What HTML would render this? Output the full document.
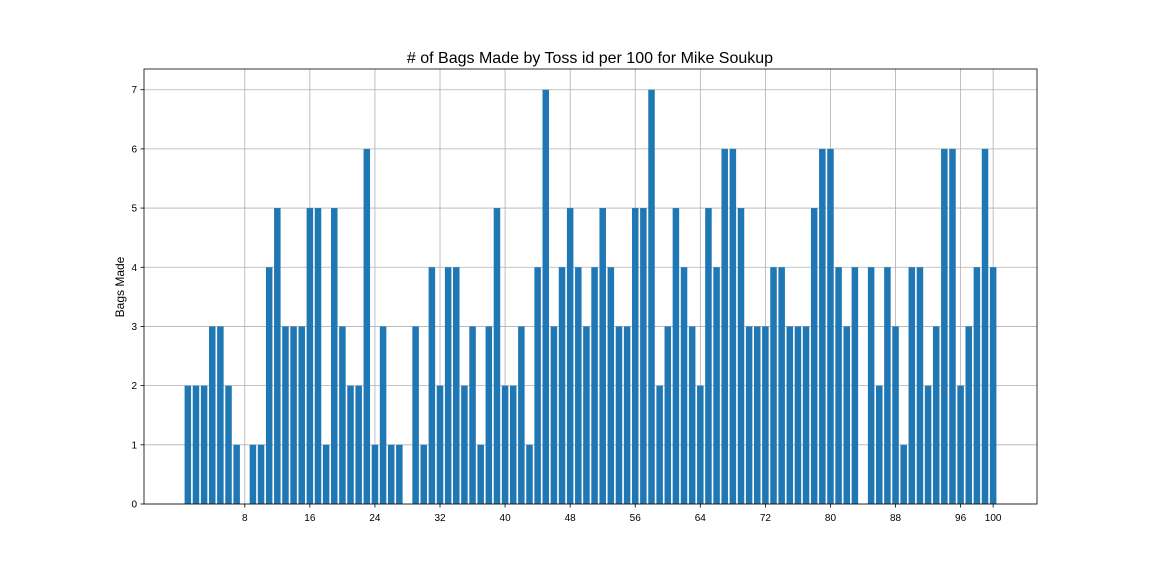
<!DOCTYPE html>
<html><head><meta charset="utf-8"><style>
body{margin:0;background:#fff;font-family:"Liberation Sans","DejaVu Sans",sans-serif}
</style></head><body>
<svg id="chart" width="1152" height="576" xmlns="http://www.w3.org/2000/svg">
<rect width="1152" height="576" fill="#fff"/>
<text x="590" y="63" text-anchor="middle" font-size="16" fill="#000">
# of Bags Made by Toss id per 100 for Mike Soukup</text>
<text transform="translate(124,287) rotate(-90)" text-anchor="middle" font-size="12" fill="#000">Bags Made</text>
<g id="grid"></g><g id="bars"></g><g id="axes"></g>
</svg>
<script>
const tossIds = Array.from({length:100},(_,i)=>i+1);
const bagsMade = [2,2,2,3,3,2,1,0,1,1,4,5,3,3,3,5,5,1,5,3,2,2,6,1,3,1,1,0,3,1,4,2,4,4,2,3,1,3,5,2,2,3,1,4,7,3,4,5,4,3,4,5,4,3,3,5,5,7,2,3,5,4,3,2,5,4,6,6,5,3,3,3,4,4,3,3,3,5,6,6,4,3,4,0,4,2,4,3,1,4,4,2,3,6,6,2,3,4,6,4];
const xTicks = [8,16,24,32,40,48,56,64,72,80,88,96,100];
const yTicks = [0,1,2,3,4,5,6,7];
const L=144,R=1037,T=69,B=504;
const xMin=-4.39,xMax=105.39,yMin=0,yMax=7.35;
const sx=v=>L+(v-xMin)/(xMax-xMin)*(R-L);
const sy=v=>B-(v-yMin)/(yMax-yMin)*(B-T);
const NS="http://www.w3.org/2000/svg";
function mk(tag,attrs,parent){const e=document.createElementNS(NS,tag);for(const k in attrs)e.setAttribute(k,attrs[k]);parent.appendChild(e);return e;}
const grid=document.getElementById('grid'),bars=document.getElementById('bars'),axes=document.getElementById('axes');
xTicks.forEach(t=>{
  const g=mk('line',{x1:sx(t),x2:sx(t),y1:T,y2:B,stroke:'#b0b0b0','stroke-width':0.8},grid);
  
  
  mk('line',{x1:sx(t),x2:sx(t),y1:B,y2:B+3.5,stroke:'#000','stroke-width':0.8},axes);
  const tx=mk('text',{x:sx(t),y:B+17,'text-anchor':'middle','font-size':10,fill:'#000'},axes);
  tx.textContent=t;
  
  
});
yTicks.forEach(t=>{
  const g=mk('line',{x1:L,x2:R,y1:sy(t),y2:sy(t),stroke:'#b0b0b0','stroke-width':0.8},grid);
  
  
  mk('line',{x1:L-3.5,x2:L,y1:sy(t),y2:sy(t),stroke:'#000','stroke-width':0.8},axes);
  const tx=mk('text',{x:L-7,y:sy(t)+3.5,'text-anchor':'end','font-size':10,fill:'#000'},axes);
  tx.textContent=t;
  
  
});
tossIds.forEach((id,i)=>{
  const v=bagsMade[i];
  const x0=sx(id-0.4),x1=sx(id+0.4);
  const r=mk('rect',{x:x0,y:sy(v),width:x1-x0,height:sy(0)-sy(v),fill:'#1f77b4'},bars);
  
  
});
const fr=mk('rect',{x:L,y:T,width:R-L,height:B-T,fill:'none',stroke:'#000','stroke-width':0.8},axes);


</script>
</body></html>
